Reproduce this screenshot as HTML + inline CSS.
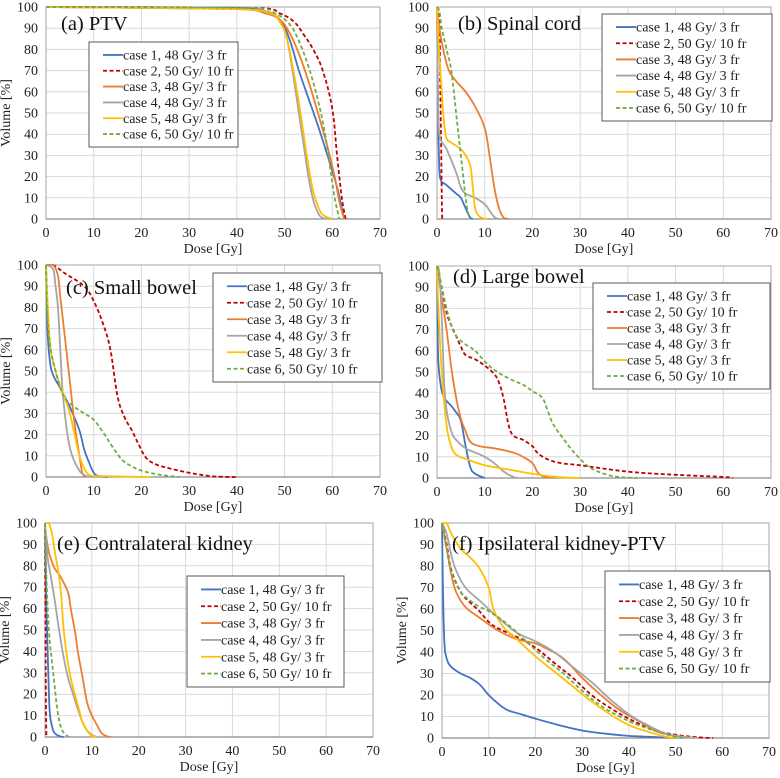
<!DOCTYPE html>
<html><head><meta charset="utf-8">
<style>
body{margin:0;background:#fff}
svg{display:block}
svg text{font-family:"Liberation Serif","DejaVu Serif",serif}
</style></head>
<body>
<svg id="fig" width="780" height="778" viewBox="0 0 780 778" font-family="Liberation Serif, DejaVu Serif, serif"></svg>
<script>
// Axis ticks
const xTicks=[0,10,20,30,40,50,60,70];
const yTicks=[0,10,20,30,40,50,60,70,80,90,100];
const caseLabels=["case 1, 48 Gy/ 3 fr","case 2, 50 Gy/ 10 fr","case 3, 48 Gy/ 3 fr","case 4, 48 Gy/ 3 fr","case 5, 48 Gy/ 3 fr","case 6, 50 Gy/ 10 fr"];
// (a) PTV
const ptv_c1=[[0,100],[40,99.5],[46,98],[49,94],[51,85],[53,70],[55,57],[57,44],[59,30],[61,15],[62,5],[62.5,0]];
const ptv_c2=[[0,100],[45,99.5],[49,97],[52,93],[54,87],[56,80],[58,70],[60,52],[61,30],[62,10],[62.8,0]];
const ptv_c3=[[0,100],[40,99],[46,97],[49,94],[51,88],[53,78],[55,65],[57,50],[59,34],[60.5,20],[61.5,8],[62.5,0]];
const ptv_c4=[[0,100],[40,99],[47,97],[49,93],[50.5,85],[52,65],[53,50],[54,35],[55,20],[56,9],[57,3],[58,0.5],[60,0]];
const ptv_c5=[[0,100],[40,99],[47,97],[49,93],[50.5,85],[52,68],[53,55],[54,40],[55,25],[56,13],[57,6],[58,2],[60,0]];
const ptv_c6=[[0,100],[44,99.5],[48,97],[51,92],[53,84],[55,72],[57,56],[58.5,40],[59.5,25],[60.5,10],[61.5,0]];
// (b) Spinal cord
const sc_c1=[[0,100],[0.2,55],[0.4,30],[0.7,19],[2,16],[4,12],[5,10],[6,5],[7,0.5],[7.5,0]];
const sc_c2=[[0,100],[0.5,95],[0.7,60],[0.9,30],[1,10],[1.1,0]];
const sc_c3=[[0,100],[0.5,90],[1.5,78],[2.5,70],[4,65],[6,60],[8,53],[10,43],[11,30],[12,15],[13,5],[14,0.5],[15,0]];
const sc_c4=[[0,100],[0.2,60],[0.5,40],[2,33],[4,22],[5,15],[6,12],[8,10],[10,7],[11,4],[12,1],[13,0]];
const sc_c5=[[0,100],[0.3,85],[1,60],[1.5,45],[2,38],[3,36],[5,33],[6,30],[7,25],[7.5,15],[8,5],[9,1],[10.5,0]];
const sc_c6=[[0,100],[0.5,98],[1,90],[2,80],[3,70],[4,50],[5,30],[6,10],[6.5,3],[7,0]];
// (c) Small bowel
const sb_c1=[[0,100],[0.3,70],[0.8,55],[1.5,48],[3,42],[5,33],[7,22],[8,13],[9,7],[10,2],[11,0.5],[13,0]];
const sb_c2=[[0,100],[1.5,100],[4,96],[8,90],[10,83],[12,72],[13.5,60],[15,38],[16.5,28],[18,22],[19.5,15],[21,9],[23,6],[26,4],[30,2],[35,0.3],[40,0]];
const sb_c3=[[0,100],[1.5,100],[2.5,95],[3,85],[4,65],[5,45],[6,25],[7,10],[7.5,3],[8,0]];
const sb_c4=[[0,100],[1.5,98],[2,90],[2.5,80],[3,60],[3.5,40],[4.5,20],[5.5,10],[7,3],[8,1],[9,0]];
const sb_c5=[[0,100],[0.5,75],[1,60],[2,50],[3,43],[4,37],[5,30],[6,20],[7,10],[8,4],[9,1],[10,0.5],[22,0]];
const sb_c6=[[0,100],[0.3,75],[1,60],[2,50],[3,42],[4,37],[6,33],[8,30],[10,27],[12,21],[14,14],[16,8],[18,5],[20,3],[24,1],[28,0]];
// (d) Large bowel
const lb_c1=[[0,100],[0.2,60],[0.7,45],[1.5,38],[3,34],[4,31],[5,27],[6,15],[7,5],[8,2],[10,0]];
const lb_c2=[[0,100],[1,90],[2,78],[3,72],[4,67],[5,62],[6,58],[8,56],[10,53],[12,49],[13,45],[14,37],[15,25],[16,20],[18,18],[20,15],[21,12],[23,9],[26,7],[30,6],[40,3],[50,1.5],[60,0.5],[62,0]];
const lb_c3=[[0,100],[1,85],[2,70],[3,52],[4,38],[5,28],[6,22],[7,17],[9,15],[12,14],[16,12],[18,10],[20,7],[21,3],[22,1],[24,0]];
const lb_c4=[[0,100],[0.5,97],[1,75],[1.5,45],[2,32],[3,22],[4,18],[6,14],[8,12],[10,10],[12,7],[14,3],[16,0.5],[17,0]];
const lb_c5=[[0,100],[0.3,80],[1,50],[2,25],[3,15],[4,11],[6,9],[10,6],[15,4],[20,2],[25,0.5],[30,0]];
const lb_c6=[[0,100],[1,90],[2,80],[3,72],[4,67],[6,63],[8,60],[10,55],[12,51],[15,47],[18,44],[20,41],[22,38],[23,33],[24,27],[25,23],[26,20],[28,14],[30,9],[32,5],[35,2],[38,0.5],[42,0]];
// (e) Contralateral kidney
const ck_c1=[[0,100],[0.3,60],[0.7,30],[1,12],[1.5,5],[2,2],[3,0.5],[4,0]];
const ck_c2=[[0,100],[0.1,50],[0.2,15],[0.3,0]];
const ck_c3=[[0,100],[0.3,93],[0.7,88],[1,85],[2,79],[3,76],[4,72],[5,67],[5.5,60],[6.5,48],[7,40],[8,28],[9,16],[10,10],[11,6],[12,2],[13,0.5],[14,0]];
const ck_c4=[[0,100],[0.5,85],[1,78],[2,65],[3,50],[4,37],[5,27],[6,20],[7,13],[8,7],[9,3],[10,1],[11,0]];
const ck_c5=[[0,100],[0.8,100],[1.5,95],[2,88],[3,75],[3.5,65],[4,50],[5,33],[6,23],[7,15],[8,7],[9,3],[10,0.5],[11,0]];
const ck_c6=[[0,100],[0.3,75],[0.7,55],[1,45],[1.5,35],[2,25],[2.5,15],[3,8],[3.5,4],[4,2],[5,0]];
// (f) Ipsilateral kidney-PTV
const ik_c1=[[0,100],[0.2,70],[0.5,45],[1,37],[2,33],[4,30],[6,28],[8,25],[10,20],[12,16],[14,13],[17,11],[20,9],[25,6],[30,3.5],[35,2],[40,1],[45,0.5],[50,0]];
const ik_c2=[[0,100],[1,90],[2,78],[4,68],[6,63],[8,59],[10,54],[12,51],[16,47],[20,42],[24,35],[28,28],[32,20],[36,14],[40,9],[45,4],[50,1.5],[55,0.3],[58,0]];
const ik_c3=[[0,100],[1,88],[2,76],[3,68],[5,61],[8,56],[12,50],[16,46],[20,44],[22,42],[26,37],[30,28],[34,20],[38,13],[42,8],[46,3],[50,1],[54,0]];
const ik_c4=[[0,100],[1,95],[2,85],[3,78],[5,70],[8,64],[12,56],[16,49],[20,45],[24,40],[28,33],[32,26],[36,18],[40,11],[44,6],[48,2],[52,0.5],[55,0]];
const ik_c5=[[0,100],[1,100],[2,95],[4,88],[6,84],[8,79],[10,70],[11,60],[13,52],[16,46],[20,38],[24,31],[28,24],[32,17],[36,11],[40,6],[44,3],[48,0.5],[50,0]];
const ik_c6=[[0,100],[1,88],[2,77],[4,68],[6,64],[8,61],[10,59],[14,53],[18,45],[22,37],[26,30],[30,22],[34,15],[38,10],[42,6],[46,3],[50,0.5],[52,0]];

const colors=["#4472C4","#C00000","#ED7D31","#A5A5A5","#FFC000","#70AD47"];
const dashed=[false,true,false,false,false,true];
const FF="Liberation Serif, DejaVu Serif, serif";
const NS="http://www.w3.org/2000/svg";
const svg=document.getElementById('fig');
function mk(tag,attrs,parent){const e=document.createElementNS(NS,tag);for(const k in attrs)e.setAttribute(k,attrs[k]);if(tag==='text')e.setAttribute('font-family',FF);(parent||svg).appendChild(e);return e;}

const panels=[
 {key:'ptv',title:'(a) PTV',series:[ptv_c1,ptv_c2,ptv_c3,ptv_c4,ptv_c5,ptv_c6],x0:46,x1:380,yt:7,yb:219,tx:61,ty:30,ytitle:true,lg:[89,42,149,105]},
 {key:'spinal-cord',title:'(b) Spinal cord',series:[sc_c1,sc_c2,sc_c3,sc_c4,sc_c5,sc_c6],x0:437,x1:771,yt:7,yb:219,tx:458,ty:30,ytitle:false,lg:[602,14,170,107]},
 {key:'small-bowel',title:'(c) Small bowel',series:[sb_c1,sb_c2,sb_c3,sb_c4,sb_c5,sb_c6],x0:46,x1:380,yt:265,yb:477,tx:66,ty:294,ytitle:true,lg:[213,273,169,109]},
 {key:'large-bowel',title:'(d) Large bowel',series:[lb_c1,lb_c2,lb_c3,lb_c4,lb_c5,lb_c6],x0:437,x1:771,yt:266,yb:478,tx:453,ty:283,ytitle:false,lg:[593,283,177,106]},
 {key:'contralateral-kidney',title:'(e) Contralateral kidney',series:[ck_c1,ck_c2,ck_c3,ck_c4,ck_c5,ck_c6],x0:45,x1:373,yt:523,yb:737,tx:57,ty:550,ytitle:true,lg:[187,576,157,111]},
 {key:'ipsilateral-kidney',title:'(f) Ipsilateral kidney-PTV',series:[ik_c1,ik_c2,ik_c3,ik_c4,ik_c5,ik_c6],x0:442,x1:769,yt:523,yb:738,tx:452,ty:550,ytitle:true,lg:[605,571,165,111]}
];

function smoothPath(pts){
  if(pts.length<2)return '';
  let d='M'+pts[0][0].toFixed(2)+','+pts[0][1].toFixed(2);
  for(let i=0;i<pts.length-1;i++){
    const p0=pts[Math.max(0,i-1)],p1=pts[i],p2=pts[i+1],p3=pts[Math.min(pts.length-1,i+2)];
    const t=0.18;
    let c1x=p1[0]+(p2[0]-p0[0])*t,c1y=p1[1]+(p2[1]-p0[1])*t;
    let c2x=p2[0]-(p3[0]-p1[0])*t,c2y=p2[1]-(p3[1]-p1[1])*t;
    const lo=Math.min(p1[1],p2[1]),hi=Math.max(p1[1],p2[1]);
    c1y=Math.min(hi,Math.max(lo,c1y));c2y=Math.min(hi,Math.max(lo,c2y));
    const lx=Math.min(p1[0],p2[0]),hx=Math.max(p1[0],p2[0]);
    c1x=Math.min(hx,Math.max(lx,c1x));c2x=Math.min(hx,Math.max(lx,c2x));
    d+=' C'+c1x.toFixed(2)+','+c1y.toFixed(2)+' '+c2x.toFixed(2)+','+c2y.toFixed(2)+' '+p2[0].toFixed(2)+','+p2[1].toFixed(2);
  }
  return d;
}

panels.forEach(p=>{
  const g=mk('g',{});
  
  
  const sx=v=>p.x0+(v/70)*(p.x1-p.x0);
  const sy=v=>p.yb-(v/100)*(p.yb-p.yt);
  yTicks.forEach(t=>{
    if(t>0){const l=mk('line',{x1:p.x0,x2:p.x1,y1:sy(t),y2:sy(t),stroke:'#d9d9d9','stroke-width':1},g);
    }
    const tx=mk('text',{x:p.x0-8,y:sy(t)+4.5,'text-anchor':'end','font-size':14,fill:'#222'},g);
    tx.textContent=t;
  });
  xTicks.forEach(t=>{
    if(t>0){const l=mk('line',{x1:sx(t),x2:sx(t),y1:p.yt,y2:p.yb,stroke:'#d9d9d9','stroke-width':1},g);
    }
    const tx=mk('text',{x:sx(t),y:p.yb+18,'text-anchor':'middle','font-size':14,fill:'#222'},g);
    tx.textContent=t;
  });
  const fr=mk('rect',{x:p.x0,y:p.yt,width:p.x1-p.x0,height:p.yb-p.yt,fill:'none',stroke:'#a6a6a6','stroke-width':1},g);
  
  const ax=mk('line',{x1:p.x0,x2:p.x1,y1:p.yb,y2:p.yb,stroke:'#8c8c8c','stroke-width':1.2},g);
  
  p.series.forEach((s,i)=>{
    const pts=s.map(d=>[sx(d[0]),sy(d[1])]);
    const path=mk('path',{d:smoothPath(pts),fill:'none',stroke:colors[i],'stroke-width':1.8},g);
    if(dashed[i])path.setAttribute('stroke-dasharray','4,2.5');
    
    
  });
  const tt=mk('text',{x:p.tx,y:p.ty,'font-size':20.5,fill:'#111'},g);
  tt.textContent=p.title;
  const xt=mk('text',{x:(p.x0+p.x1)/2,y:p.yb+34,'text-anchor':'middle','font-size':14,fill:'#222'},g);
  xt.textContent='Dose [Gy]';
  if(p.ytitle){
    const cy=(p.yt+p.yb)/2,cx=p.x0-36;
    const yt=mk('text',{x:cx,y:cy,'text-anchor':'middle','font-size':14,fill:'#222',transform:'rotate(-90 '+cx+' '+cy+')'},g);
    yt.textContent='Volume [%]';
  }
  const [lx,ly,lw,lh]=p.lg;
  const lgG=mk('g',{},g);
  
  mk('rect',{x:lx,y:ly,width:lw,height:lh,fill:'#fff',stroke:'#595959','stroke-width':1},lgG);
  const step=(lh-10)/6;
  caseLabels.forEach((lab,i)=>{
    const cy=ly+5+step*(i+0.5);
    const ln=mk('line',{x1:lx+14,x2:lx+34,y1:cy,y2:cy,stroke:colors[i],'stroke-width':1.8},lgG);
    if(dashed[i])ln.setAttribute('stroke-dasharray','4,2.5');
    
    const t=mk('text',{x:lx+34,y:cy+4.5,'font-size':14,fill:'#222'},lgG);
    t.textContent=lab;
  });
});
</script>
</body></html>
